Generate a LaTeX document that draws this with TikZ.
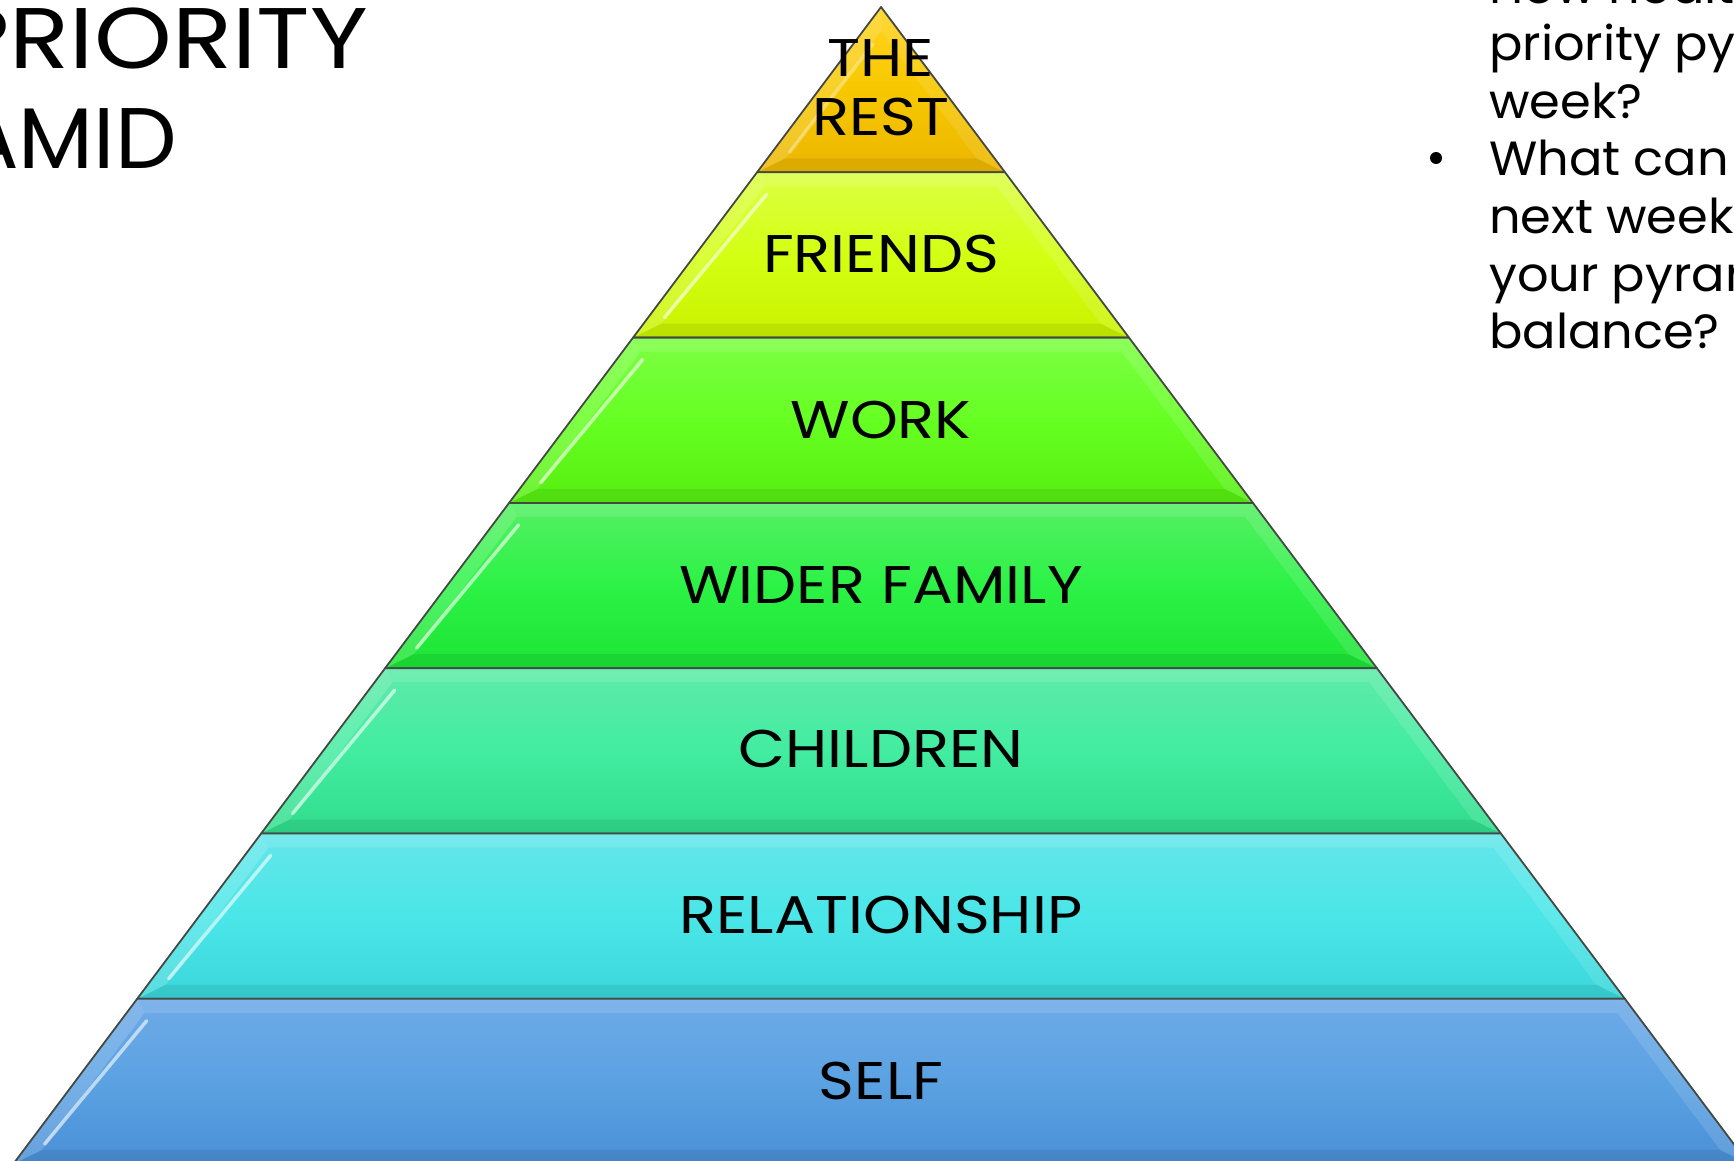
\documentclass[tikz,border=0pt]{standalone}
\usepackage{fontspec}
\setmainfont{Poppins}
\definecolor{edgegray}{HTML}{444944}
% layer colours: top / middle / bottom of each band
\definecolor{reT}{HTML}{FFD420}\definecolor{reM}{HTML}{F7C800}\definecolor{reB}{HTML}{ECB600}
\definecolor{frT}{HTML}{DCFF44}\definecolor{frM}{HTML}{D3FF12}\definecolor{frB}{HTML}{CAF200}
\definecolor{woT}{HTML}{7CFF44}\definecolor{woM}{HTML}{66FF22}\definecolor{woB}{HTML}{56EE10}
\definecolor{wiT}{HTML}{55F064}\definecolor{wiM}{HTML}{2CF246}\definecolor{wiB}{HTML}{1CE434}
\definecolor{chT}{HTML}{5EEBAA}\definecolor{chM}{HTML}{42ECA0}\definecolor{chB}{HTML}{30DD8C}
\definecolor{rlT}{HTML}{64E6EA}\definecolor{rlM}{HTML}{4AE6E8}\definecolor{rlB}{HTML}{3AD6DA}
\definecolor{seT}{HTML}{6EAAE8}\definecolor{seM}{HTML}{5BA2E2}\definecolor{seB}{HTML}{4A8FD6}
\tikzset{
  layeredge/.style={draw=edgegray, line width=1.8pt, line join=round},
  bevellight/.style={fill=white, fill opacity=#1},
  beveldark/.style={fill=black, fill opacity=#1},
  streak/.style={draw=white, draw opacity=0.6, line width=3.5pt, line cap=round},
  layerlabel/.style={font=\fontsize{53}{60}\selectfont, anchor=base, inner sep=0pt,
                     text=black, xscale=1.15},
  titletext/.style={font=\fontsize{86}{100}\selectfont, anchor=base east, inner sep=0pt,
                    xscale=1.15},
  sidetext/.style={font=\fontsize{48}{57}\selectfont, anchor=base west, inner sep=0pt,
                   xscale=1.03},
  bulletdot/.style={circle, fill=black, minimum size=12pt, inner sep=0pt},
}
\begin{document}
\begin{tikzpicture}[x=1pt,y=-1pt]
\useasboundingbox (0,0) rectangle (1734,1161);
\clip (0,0) rectangle (1734,1161);
\fill[white] (0,0) rectangle (1734,1161);

% apex (881,7), band height 165.3, half-width grows 0.75 per unit of height
% top triangle
\pgfmathsetmacro\wb{0.75*165.3}
\pgfmathsetmacro\yc{172.3-14}
\pgfmathsetmacro\wc{0.75*(\yc-7)-18}
\fill[top color=reT, bottom color=reB, middle color=reM]
  (881,7) -- (881+\wb,172.3) -- (881-\wb,172.3) -- cycle;
\fill[bevellight=0.16] (881,7) -- (881,31) -- (881-\wc,\yc) -- (881-\wb,172.3) -- cycle;
\fill[bevellight=0.10] (881,7) -- (881,31) -- (881+\wc,\yc) -- (881+\wb,172.3) -- cycle;
\fill[beveldark=0.07] (881-\wc,\yc) -- (881+\wc,\yc) -- (881+\wb,172.3) -- (881-\wb,172.3) -- cycle;
\draw[streak, draw opacity=0.35] (881-8,44) -- (881-\wc+4,\yc-6);
\draw[layeredge] (881,7) -- (881+\wb,172.3) -- (881-\wb,172.3) -- cycle;

% trapezoid bands
\foreach \k/\ct/\cm/\cb in {1/frT/frM/frB, 2/woT/woM/woB, 3/wiT/wiM/wiB,
                           4/chT/chM/chB, 5/rlT/rlM/rlB, 6/seT/seM/seB}{
  \pgfmathsetmacro\yt{7+165.3*\k}
  \pgfmathsetmacro\yb{\yt+165.3}
  \pgfmathsetmacro\wt{0.75*(\yt-7)}
  \pgfmathsetmacro\wb{0.75*(\yb-7)}
  \pgfmathsetmacro\ya{\yt+14}
  \pgfmathsetmacro\yc{\yb-14}
  \pgfmathsetmacro\wa{0.75*(\ya-7)-18}
  \pgfmathsetmacro\wc{0.75*(\yc-7)-18}
  \fill[top color=\ct, bottom color=\cb, middle color=\cm]
    (881-\wt,\yt) -- (881+\wt,\yt) -- (881+\wb,\yb) -- (881-\wb,\yb) -- cycle;
  % bevel faces
  \fill[bevellight=0.16] (881-\wt,\yt) -- (881-\wa,\ya) -- (881-\wc,\yc) -- (881-\wb,\yb) -- cycle;
  \fill[bevellight=0.12] (881+\wt,\yt) -- (881+\wa,\ya) -- (881+\wc,\yc) -- (881+\wb,\yb) -- cycle;
  \fill[bevellight=0.12] (881-\wt,\yt) -- (881+\wt,\yt) -- (881+\wa,\ya) -- (881-\wa,\ya) -- cycle;
  \fill[beveldark=0.07] (881-\wc,\yc) -- (881+\wc,\yc) -- (881+\wb,\yb) -- (881-\wb,\yb) -- cycle;
  % highlight along the inner left edge
  \draw[streak] (881-\wa+2,\ya+8) -- (881-\wc+3,\yc-6);
  \draw[layeredge] (881-\wt,\yt) -- (881+\wt,\yt) -- (881+\wb,\yb) -- (881-\wb,\yb) -- cycle;
}

% band labels
\node[layerlabel] (rest1) at (881,77) {THE};
\node[layerlabel] (rest2) at (881,136) {REST};
\node[layerlabel] (friends) at (881,272) {FRIENDS};
\node[layerlabel] (work) at (881,438) {WORK};
\node[layerlabel] (wider) at (881,603) {WIDER FAMILY};
\node[layerlabel] (children) at (881,767.5) {CHILDREN};
\node[layerlabel] (relationship) at (881,933) {RELATIONSHIP};
\node[layerlabel] (self) at (881,1099) {SELF};

% title
\node[titletext] (title1) at (368,69) {PRIORITY};
\node[titletext, xscale=0.88] (title2) at (177,169) {PYRAMID};

% questions
\node[sidetext] (q1a) at (1489,3.5) {How healthy};
\node[sidetext] (q1b) at (1489,61) {priority pyramid};
\node[sidetext] (q1c) at (1489,118.5) {week?};
\node[bulletdot] (b2) at (1436,158) {};
\node[sidetext] (q2a) at (1489,176) {What can you};
\node[sidetext] (q2b) at (1489,233.5) {next week};
\node[sidetext] (q2c) at (1489,291) {your pyramid};
\node[sidetext] (q2d) at (1489,348.5) {balance?};
\end{tikzpicture}
\end{document}
